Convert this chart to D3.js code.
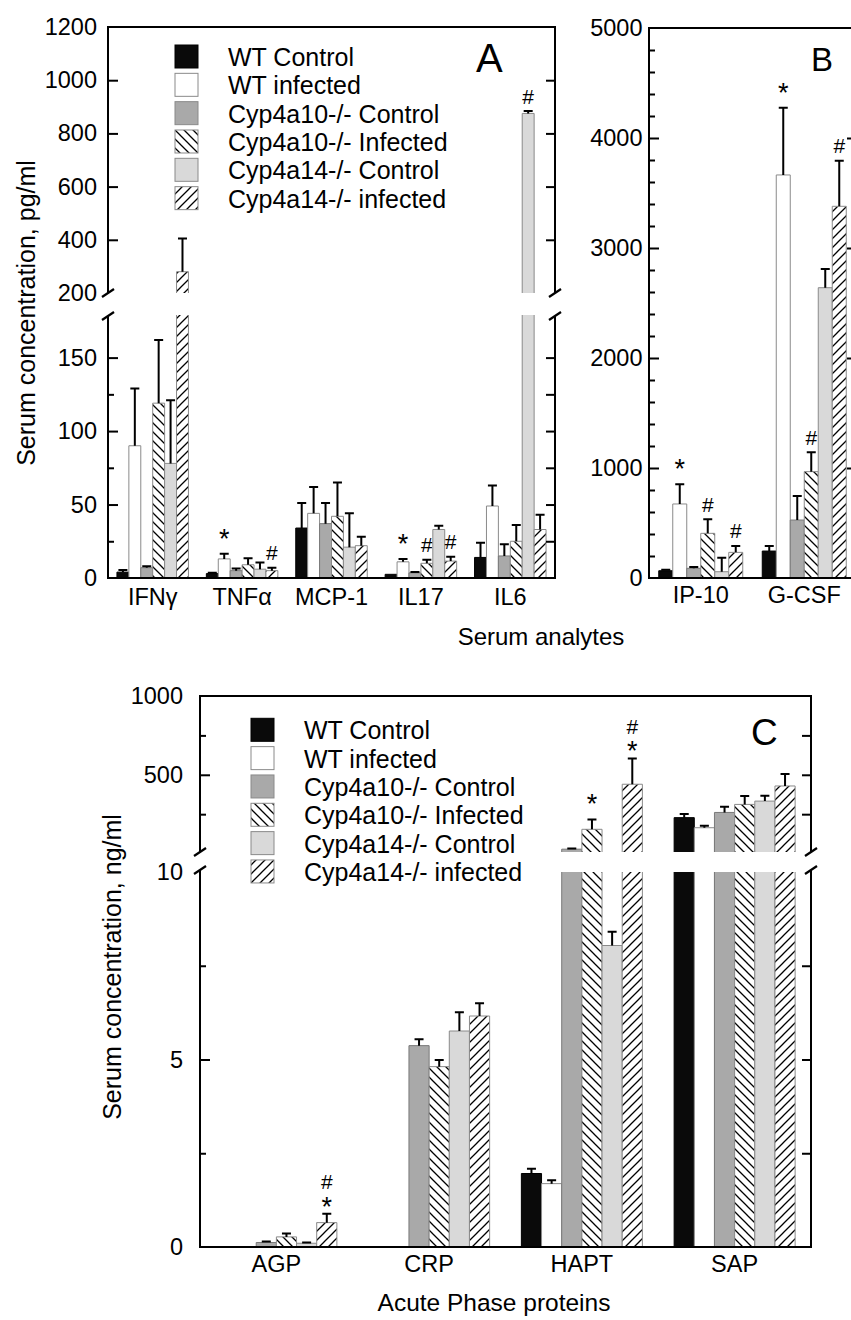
<!DOCTYPE html>
<html><head><meta charset="utf-8">
<script src="https://cdn.jsdelivr.net/npm/d3@7"></script>
<style>body{margin:0;background:#fff}svg{display:block;font-family:"Liberation Sans",Arial,Helvetica,sans-serif}</style>
</head><body><svg id="c" width="851" height="1320"></svg>
<script>
// ---------------- data ----------------
const seriesNames = ["WT Control","WT infected","Cyp4a10-/- Control","Cyp4a10-/- Infected","Cyp4a14-/- Control","Cyp4a14-/- infected"];

const analytesA = ["IFNγ","TNFα","MCP-1","IL17","IL6"];
const valuesA = [[4,90,7,119,78,280],[3,13,5,9,6,5],[34,44,37,42,21,22],[2.5,11,3.5,10,33,11.5],[14,49,15,25,875,33]];
const errorsA = [[1.5,39,1,43,43,125],[0.5,3.5,1.5,4.5,4.5,2],[17,18,14,23,23,6],[0,2,0.5,2.5,2.5,3],[10,14,8,11,9,10]];
const marksA = [["","","","","",""],["","*","","","","#"],["","","","","",""],["","*","","#","","#"],["","","","","#",""]];
const ticksALower = [0,50,100,150];
const minorALower = [25,75,125];
const ticksAUpper = [200,400,600,800,1000,1200];

const analytesB = ["IP-10","G-CSF"];
const valuesB = [[66,673,88,406,57,233],[245,3664,527,967,2639,3379]];
const errorsB = [[8,179,12,127,128,58],[46,611,218,176,170,415]];
const marksB = [["","*","","#","","#"],["","*","","#","","#"]];
const ticksB = [0,1000,2000,3000,4000,5000];
const minorB = [200,400,600,800,1200,1400,1600,1800,2200,2400,2600,2800,3200,3400,3600,3800,4200,4400,4600,4800];

const proteinsC = ["AGP","CRP","HAPT","SAP"];
const valuesC = [[0,0,0.12,0.27,0.1,0.65],[0,0,5.37,4.81,5.76,6.16],[1.96,1.69,28,154,8.04,440],[228,164,261,312,333,429]];
const errorsC = [[0,0,0.03,0.09,0.02,0.24],[0,0,0.17,0.18,0.5,0.34],[0.13,0.09,5,63,0.37,164],[23,13,36,53,34,76]];
const marksC = [["","","","","","*#"],["","","","","",""],["","","","*","","*#"],["","","","","",""]];
const ticksCLower = [0,5,10];
const minorCLower = [2.5,7.5];
const ticksCUpper = [500,1000];
const minorCUpper = [250,750];

// ---------------- styles ----------------
const fills = ["#0a0a0a","#ffffff","#a9a9a9","url(#hatchBack)","#d9d9d9","url(#hatchFwd)"];
const strokes = ["#000","#8a8a8a","#7a7a7a","#8a8a8a","#8a8a8a","#8a8a8a"];
const FONT = 23.5;

const svg = d3.select("#c");
const defs = svg.append("defs");
function hatch(id, d){
  const p = defs.append("pattern").attr("id",id).attr("patternUnits","userSpaceOnUse").attr("width",9).attr("height",9);
  p.append("rect").attr("width",9).attr("height",9).attr("fill","#fff");
  p.append("path").attr("d",d).attr("stroke","#000").attr("stroke-width",1.3).attr("fill","none");
}
hatch("hatchBack","M0,0L9,9M-2,7L2,11M7,-2L11,2");
hatch("hatchFwd","M0,9L9,0M-2,2L2,-2M7,11L11,7");

const g = svg.append("g");

function breakMark(x,y){
  g.append("path").attr("d",`M${x-6},${y+4}L${x+6},${y-4}`).attr("stroke","#000").attr("stroke-width",2.2);
}

function drawPanel(cfg){
  const {cats, values, errors, marks, x0, x1, segs, groupWidth} = cfg;
  const xb = d3.scaleBand().domain(cats).range([x0,x1]);
  const xi = d3.scaleBand().domain(d3.range(6)).range([-groupWidth/2, groupWidth/2]);
  const bw = xi.bandwidth();
  cats.forEach((cat,ci)=>{
    const cx0 = xb(cat)+xb.bandwidth()/2;
    values[ci].forEach((v,si)=>{
      if(v<=0) return;
      const bx = cx0 + xi(si);
      segs.forEach(seg=>{
        const [d0,d1] = seg.scale.domain();
        if(v<=d0) return;
        const top = Math.min(v,d1);
        const yb = seg.scale(d0), yt = seg.scale(top);
        g.append("rect").attr("x",bx).attr("y",yt).attr("width",bw).attr("height",Math.max(0,yb-yt)).attr("fill",fills[si]);
        const closed = v<=d1;
        g.append("path").attr("d", closed ? `M${bx},${yb}V${yt}H${bx+bw}V${yb}` : `M${bx},${yb}V${yt}M${bx+bw},${yt}V${yb}`)
          .attr("fill","none").attr("stroke",strokes[si]).attr("stroke-width",1);
        if(closed){
          const e = errors[ci][si];
          const cx = bx+bw/2;
          const ye = seg.scale(v+e);
          if(e>0){
            g.append("path").attr("d",`M${cx},${yt}V${ye}M${cx-4.5},${ye}H${cx+4.5}`).attr("stroke","#000").attr("stroke-width",2).attr("fill","none");
          }
          const m = marks[ci][si];
          if(m){
            const syms = m.split("");
            syms.forEach((s,k)=>{
              let gap;
              if(syms.length===1) gap = s==="*"?21:15; else gap = k===0?13:32;
              const yc = ye - gap;
              g.append("text").attr("x",cx).attr("y", yc + (s==="*"?15:7.5))
                .attr("text-anchor","middle").attr("font-size",s==="*"?27:21).text(s);
            });
          }
        }
      });
    });
    g.append("text").attr("x",cx0).attr("y",cfg.catY).attr("text-anchor","middle").attr("font-size",FONT).text(cat);
  });
}

function axesFor(cfg){
  const {x0,x1,segs,pad} = cfg;
  segs.forEach((seg,i)=>{
    const [r0,r1] = seg.scale.range();
    g.append("g").attr("transform",`translate(${x0},0)`)
      .call(d3.axisLeft(seg.scale).tickValues(seg.labels).tickSize(0).tickPadding(pad).tickFormat(d3.format("d")))
      .call(a=>{a.select(".domain").remove();a.selectAll("text").attr("font-size",FONT).attr("font-family",null).attr("fill","#000");});
    const majors = seg.labels.filter(v=>v!==seg.scale.domain()[0] && v!==seg.scale.domain()[1]);
    const mk = (vals,len,x,right)=>{
      g.append("g").attr("transform",`translate(${x},0)`)
        .call((right?d3.axisRight(seg.scale):d3.axisLeft(seg.scale)).tickValues(vals).tickSize(-len).tickFormat(""))
        .call(a=>{a.select(".domain").remove();a.selectAll("line").attr("stroke","#000").attr("stroke-width",2);});
    };
    mk(majors,10,x0,false);
    if(seg.minor) mk(seg.minor,6,x0,false);
    mk(majors.concat(seg.rightMinor||[]),9,x1,true);
    const yLow = r0, yHigh = seg.lineTop!==undefined?seg.lineTop:r1;
    g.append("path").attr("d",`M${x0},${yLow}V${yHigh}M${x1},${yLow}V${yHigh}`).attr("stroke","#000").attr("stroke-width",2);
    if(seg.breakTop){breakMark(x0,yHigh);breakMark(x1,yHigh);}
    if(seg.breakBottom){breakMark(x0,r0);breakMark(x1,r0);}
  });
  const top = segs[segs.length-1], bot = segs[0];
  g.append("path").attr("d",`M${x0-1},${top.scale.range()[1]}H${x1+1}M${x0-1},${bot.scale.range()[0]}H${x1+1}`).attr("stroke","#000").attr("stroke-width",2);
}

function legend(x,y){
  seriesNames.forEach((n,i)=>{
    const yy = y + i*28.33;
    g.append("rect").attr("x",x).attr("y",yy).attr("width",23).attr("height",23).attr("fill",fills[i]).attr("stroke",i===0?"#000":"#8a8a8a").attr("stroke-width",1);
    g.append("text").attr("x",x+53).attr("y",yy+21).attr("font-size",25).text(n);
  });
}

// ---------------- Panel A ----------------
const aLower = d3.scaleLinear().domain([0,179]).range([578,315]);
const aUpper = d3.scaleLinear().domain([200,1200]).range([293,27]);
const panelA = {cats:analytesA, values:valuesA, errors:errorsA, marks:marksA, x0:108, x1:555, groupWidth:71.5, catY:605, pad:11,
  segs:[{scale:aLower, labels:ticksALower, minor:minorALower, rightMinor:minorALower, breakTop:true, lineTop:316},
        {scale:aUpper, labels:ticksAUpper, breakBottom:true}]};
drawPanel(panelA); axesFor(panelA);
legend(175,45);
g.append("text").attr("x",476).attr("y",72).attr("font-size",40).text("A");

// ---------------- Panel B ----------------
const bScale = d3.scaleLinear().domain([0,5000]).range([578,28]);
const panelB = {cats:analytesB, values:valuesB, errors:errorsB, marks:marksB, x0:649, x1:856, groupWidth:84, catY:603, pad:6.5,
  segs:[{scale:bScale, labels:ticksB, minor:minorB}]};
drawPanel(panelB); axesFor(panelB);
g.append("text").attr("x",811).attr("y",71).attr("font-size",33).text("B");

g.append("text").attr("x",541).attr("y",645).attr("text-anchor","middle").attr("font-size",24).text("Serum analytes");
g.append("text").attr("transform","translate(35,313) rotate(-90)").attr("text-anchor","middle").attr("font-size",25).text("Serum concentration, pg/ml");

// ---------------- Panel C ----------------
const cLower = d3.scaleLinear().domain([0,10]).range([1247,872]);
const cUpper = d3.scaleLinear().domain([10,1000]).range([852,696]);
const panelC = {cats:proteinsC, values:valuesC, errors:errorsC, marks:marksC, x0:200, x1:811, groupWidth:121, catY:1272, pad:17,
  segs:[{scale:cLower, labels:ticksCLower, minor:minorCLower, rightMinor:minorCLower, breakTop:true, lineTop:870},
        {scale:cUpper, labels:ticksCUpper, minor:minorCUpper, rightMinor:minorCUpper, breakBottom:true}]};
drawPanel(panelC); axesFor(panelC);
legend(251,718.3);
g.append("text").attr("x",751).attr("y",745).attr("font-size",37).text("C");
g.append("text").attr("x",494).attr("y",1311).attr("text-anchor","middle").attr("font-size",24.5).text("Acute Phase proteins");
g.append("text").attr("transform","translate(121,967) rotate(-90)").attr("text-anchor","middle").attr("font-size",25).text("Serum concentration, ng/ml");
</script>
</body></html>
